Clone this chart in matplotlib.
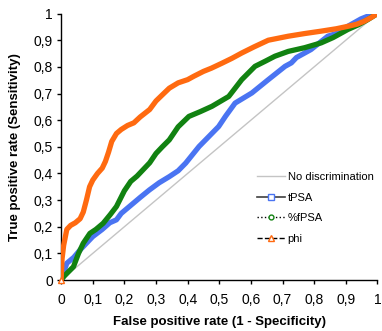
import matplotlib
matplotlib.use("Agg")
import matplotlib.pyplot as plt
from matplotlib.lines import Line2D

plt.rcParams['font.family'] = ['Liberation Sans', 'DejaVu Sans']

# Data
phi_x = [0, 0.003, 0.008, 0.018, 0.03, 0.045, 0.06, 0.07, 0.08, 0.09, 0.1, 0.115, 0.13, 0.14,
         0.15, 0.16, 0.175, 0.19, 0.21, 0.23, 0.25, 0.28, 0.3, 0.32, 0.342, 0.37, 0.4, 0.42,
         0.45, 0.475, 0.509, 0.54, 0.571, 0.61, 0.655, 0.718, 0.77, 0.822, 0.87, 0.906, 0.935,
         0.958, 0.98, 1.0]
phi_y = [0, 0.08, 0.13, 0.19, 0.205, 0.215, 0.23, 0.255, 0.3, 0.35, 0.375, 0.4, 0.42, 0.445,
         0.48, 0.52, 0.55, 0.565, 0.58, 0.59, 0.612, 0.64, 0.672, 0.695, 0.72, 0.74, 0.752, 0.765,
         0.783, 0.795, 0.814, 0.832, 0.852, 0.875, 0.9, 0.915, 0.925, 0.934, 0.943, 0.952, 0.96,
         0.971, 0.985, 1.0]

fpsa_x = [0, 0.01, 0.039, 0.055, 0.07, 0.091, 0.11, 0.133, 0.155, 0.175, 0.2, 0.22, 0.24,
          0.26, 0.28, 0.3, 0.32, 0.342, 0.37, 0.404, 0.44, 0.477, 0.53, 0.571, 0.613, 0.645,
          0.676, 0.718, 0.77, 0.822, 0.86, 0.906, 0.94, 0.969, 1.0]
fpsa_y = [0, 0.015, 0.05, 0.1, 0.138, 0.175, 0.19, 0.213, 0.245, 0.276, 0.335, 0.37, 0.39,
          0.415, 0.44, 0.475, 0.5, 0.526, 0.575, 0.614, 0.632, 0.652, 0.689, 0.752, 0.802, 0.821,
          0.84, 0.858, 0.872, 0.89, 0.91, 0.94, 0.958, 0.977, 1.0]

tpsa_x = [0, 0.018, 0.04, 0.06, 0.08, 0.1, 0.13, 0.154, 0.175, 0.19, 0.216, 0.25, 0.279,
          0.31, 0.342, 0.37, 0.394, 0.436, 0.46, 0.498, 0.52, 0.55, 0.603, 0.655, 0.708, 0.728,
          0.744, 0.79, 0.843, 0.875, 0.906, 0.948, 0.969, 1.0]
tpsa_y = [0, 0.063, 0.085, 0.113, 0.138, 0.163, 0.19, 0.215, 0.226, 0.25, 0.276, 0.31, 0.338,
          0.365, 0.388, 0.41, 0.439, 0.501, 0.53, 0.576, 0.615, 0.664, 0.702, 0.752, 0.802, 0.815,
          0.835, 0.865, 0.915, 0.927, 0.952, 0.98, 0.99, 1.0]

diag = [0, 1]

labels = ["No discrimination", "tPSA", "%fPSA", "phi"]
xticks = [0, 0.1, 0.2, 0.3, 0.4, 0.5, 0.6, 0.7, 0.8, 0.9, 1]
yticks = xticks
tick_labels = ["0", "0,1", "0,2", "0,3", "0,4", "0,5", "0,6", "0,7", "0,8", "0,9", "1"]

c_orange = "#ff6a10"
c_green = "#118211"
c_blue = "#4a74f2"

fig = plt.figure(figsize=(3.82, 3.31), dpi=100)
ax = fig.add_axes([0.160, 0.154, 0.828, 0.805])

ax.plot(diag, diag, color="#c4c4c4", lw=1.0, zorder=1)
ax.plot(tpsa_x, tpsa_y, color=c_blue, lw=3.8, solid_joinstyle='round', zorder=2)
ax.plot(fpsa_x, fpsa_y, color=c_green, lw=3.8, solid_joinstyle='round', zorder=3)
ax.plot(phi_x, phi_y, color=c_orange, lw=3.8, solid_joinstyle='round', zorder=4)
ax.plot([0], [0], marker='^', ms=4, mfc='white', mec=c_orange, mew=1, zorder=5, clip_on=False)

ax.set_xlim(0, 1)
ax.set_ylim(0, 1)
ax.set_xticks(xticks)
ax.set_yticks(yticks)
ax.set_xticklabels(tick_labels, fontsize=10)
ax.set_yticklabels(tick_labels, fontsize=10)
ax.tick_params(axis='x', direction='out', length=3, width=1, pad=6)
ax.tick_params(axis='y', direction='out', length=3, width=1, pad=3)
for s in ["top", "right"]:
    ax.spines[s].set_visible(False)
for s in ["left", "bottom"]:
    ax.spines[s].set_linewidth(1)

ax.set_xlabel("False positive rate (1 - Specificity)", fontsize=9.5, fontweight='bold', labelpad=7)
ax.set_ylabel("True positive rate (Sensitivity)", fontsize=9.5, fontweight='bold', labelpad=9)

handles = [
    Line2D([], [], color="#c4c4c4", lw=1),
    Line2D([], [], color="#404040", lw=1.2, ls='-', marker='s', ms=4, mfc='white', mec=c_blue),
    Line2D([], [], color="black", lw=1, ls=':', marker='o', ms=3.5, mfc='white', mec=c_green),
    Line2D([], [], color="black", lw=1, ls='--', marker='^', ms=4, mfc='white', mec=c_orange),
]
fig.legend(handles, labels, loc='upper left', bbox_to_anchor=(0.66, 0.493),
           frameon=False, fontsize=8, handlelength=2.6, handletextpad=0.2,
           labelspacing=0.95, borderaxespad=0)

fig.savefig("out.png", dpi=100)
